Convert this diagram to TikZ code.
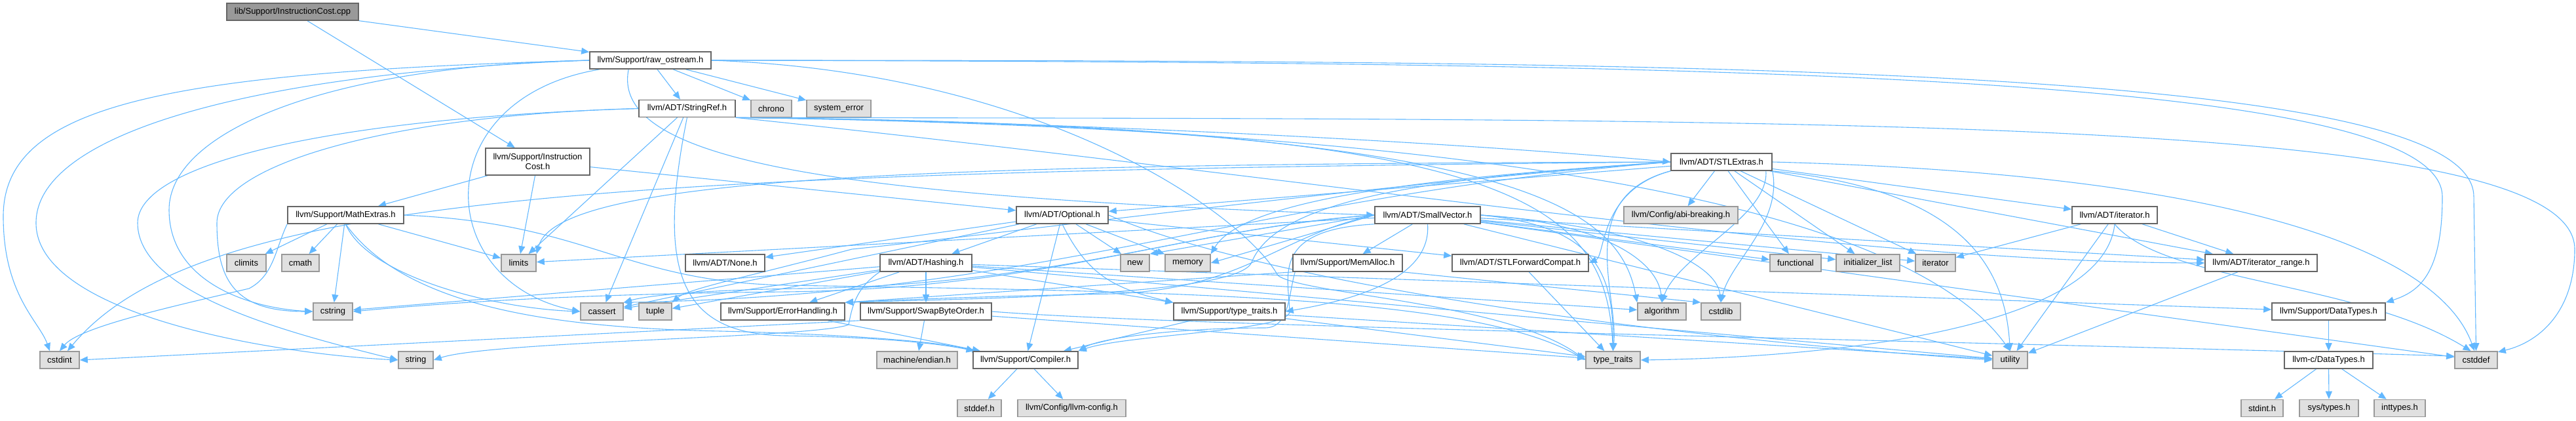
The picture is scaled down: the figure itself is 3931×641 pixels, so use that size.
\documentclass[tikz,border=0pt]{standalone}
\usepackage{fontspec}
\setmainfont{Liberation Sans}
\usetikzlibrary{arrows.meta,backgrounds}
\definecolor{edgeblue}{HTML}{63B8FF}
\definecolor{sysfill}{HTML}{E0E0E0}
\definecolor{sysline}{HTML}{999999}
\definecolor{hdrline}{HTML}{666666}
\definecolor{rootfill}{HTML}{999999}
\tikzset{
  hdr/.style={draw=hdrline, fill=white, line width=1.6pt, inner sep=0pt,
    minimum height=26pt, font=\fontsize{13}{15}\selectfont},
  sys/.style={hdr, draw=sysline, fill=sysfill},
  root/.style={hdr, fill=rootfill},
  inc/.style={draw=edgeblue, line width=1.1pt, -{Triangle[length=12pt,width=10pt]}}
}
\begin{document}
\begin{tikzpicture}[x=1pt, y=-1pt]
\useasboundingbox (0,0) rectangle (3931,641);
% project headers
\node[root, minimum width=201pt] (cpp) at (446.5,18) {lib/Support/InstructionCost.cpp};
\node[hdr, minimum width=185pt] (raw) at (992.5,92) {llvm/Support/raw\_ostream.h};
\node[hdr, minimum width=159pt, minimum height=41pt, align=center] (ic) at (820.5,246.5) {llvm/Support/Instruction\\Cost.h};
\node[hdr, minimum width=177pt] (math) at (527.5,328) {llvm/Support/MathExtras.h};
\node[hdr, minimum width=147pt] (sref) at (1048.5,165.5) {llvm/ADT/StringRef.h};
\node[hdr, minimum width=140pt] (opt) at (1621,328) {llvm/ADT/Optional.h};
\node[hdr, minimum width=121pt] (none) at (1106.5,401) {llvm/ADT/None.h};
\node[hdr, minimum width=140pt] (hash) at (1413,401) {llvm/ADT/Hashing.h};
\node[hdr, minimum width=189pt] (errh) at (1194.5,475) {llvm/Support/ErrorHandling.h};
\node[hdr, minimum width=200pt] (swap) at (1413,475) {llvm/Support/SwapByteOrder.h};
\node[hdr, minimum width=170pt] (ltt) at (1876,475) {llvm/Support/type\_traits.h};
\node[hdr, minimum width=160pt] (comp) at (1565,549) {llvm/Support/Compiler.h};
\node[hdr, minimum width=154pt] (stl) at (2627,247) {llvm/ADT/STLExtras.h};
\node[hdr, minimum width=161pt] (svec) at (2178.5,328) {llvm/ADT/SmallVector.h};
\node[hdr, minimum width=167pt] (memalloc) at (2056.5,401) {llvm/Support/MemAlloc.h};
\node[hdr, minimum width=208pt] (fwd) at (2320,401) {llvm/ADT/STLForwardCompat.h};
\node[hdr, minimum width=130pt] (iter) at (3227,328) {llvm/ADT/iterator.h};
\node[hdr, minimum width=171pt] (irange) at (3450.5,401) {llvm/ADT/iterator\_range.h};
\node[hdr, minimum width=173pt] (dtypes) at (3553.5,475) {llvm/Support/DataTypes.h};
\node[hdr, minimum width=135pt] (cdtypes) at (3553.5,549) {llvm-c/DataTypes.h};
% system headers
\node[sys, minimum width=62pt] (chrono) at (1177,165.5) {chrono};
\node[sys, minimum width=98pt] (syserr) at (1280,165.5) {system\_error};
\node[sys, minimum width=60pt] (climits) at (376,401) {climits};
\node[sys, minimum width=57pt] (cmath) at (458.5,401) {cmath};
\node[sys, minimum width=53pt] (limits) at (791.5,401) {limits};
\node[sys, minimum width=60pt] (cstring) at (508,475) {cstring};
\node[sys, minimum width=65pt] (cassert) at (918.5,475) {cassert};
\node[sys, minimum width=50pt] (tuple) at (1000,475) {tuple};
\node[sys, minimum width=60pt] (cstdint) at (91,549) {cstdint};
\node[sys, minimum width=53pt] (string) at (634.5,549) {string};
\node[sys, minimum width=44pt] (new) at (1732,401) {new};
\node[sys, minimum width=69pt] (memory) at (1812.5,401) {memory};
\node[sys, minimum width=123pt] (endian) at (1399.5,549) {machine/endian.h};
\node[sys, minimum width=67pt] (stddef) at (1494.5,622.5) {stddef.h};
\node[sys, minimum width=165pt] (config) at (1635.5,622.5) {llvm/Config/llvm-config.h};
\node[sys, minimum width=174pt] (abi) at (2565,328) {llvm/Config/abi-breaking.h};
\node[sys, minimum width=78pt] (functional) at (2740,401) {functional};
\node[sys, minimum width=97pt] (initlist) at (2850.5,401) {initializer\_list};
\node[sys, minimum width=74pt] (algorithm) at (2536,475) {algorithm};
\node[sys, minimum width=60pt] (cstdlib) at (2626,475) {cstdlib};
\node[sys, minimum width=83pt] (stt) at (2461.5,549) {type\_traits};
\node[sys, minimum width=61pt] (stditer) at (2953.5,401) {iterator};
\node[sys, minimum width=53pt] (utility) at (3067.5,549) {utility};
\node[sys, minimum width=65pt] (cstddef) at (3778.5,549) {cstddef};
\node[sys, minimum width=64pt] (stdint) at (3452,622.5) {stdint.h};
\node[sys, minimum width=90pt] (systypes) at (3554,622.5) {sys/types.h};
\node[sys, minimum width=78pt] (inttypes) at (3662,622.5) {inttypes.h};
\begin{scope}[on background layer]
% short includes
\foreach \a/\b in {cpp/raw, cpp/ic, raw/sref, raw/chrono, raw/syserr,
    ic/math, ic/limits, ic/opt, math/climits, math/cmath, math/cstring, math/limits,
    sref/limits, sref/cassert,
    stl/opt, stl/iter, stl/irange, stl/abi, stl/functional, stl/initlist, stl/stditer,
    opt/hash, opt/none, opt/fwd, opt/comp, opt/cassert, opt/memory, opt/new,
    hash/dtypes, hash/errh, hash/swap, hash/ltt, hash/algorithm, hash/cassert,
    hash/cstring, hash/tuple, hash/utility,
    svec/irange, svec/memalloc, svec/limits, svec/cstddef, svec/functional,
    svec/initlist, svec/stditer, svec/utility,
    errh/comp, swap/stt, swap/endian, ltt/comp, ltt/stt, ltt/utility, fwd/stt,
    iter/irange, iter/stditer, iter/utility, irange/utility,
    dtypes/cdtypes, cdtypes/stdint, cdtypes/systypes, cdtypes/inttypes,
    comp/stddef, comp/config}
  \draw[inc] (\a) -- (\b);
% raw_ostream.h
\draw[inc] ([xshift=60pt]raw.south west) .. controls (930,250) and (1300,300) .. (svec.west);
\draw[inc] (raw.east) .. controls (2600,95) and (3727,110) .. (3727,300)
  .. controls (3727,420) and (3690,445) .. (dtypes.north east);
\draw[inc] (raw.east) .. controls (2600,92) and (3775,100) .. (3775,300) -- (cstddef.north);
\draw[inc] (raw.west) .. controls (250,110) and (5,160) .. (5,330)
  .. controls (5,450) and (60,490) .. ([xshift=-15pt]cstdint.north);
\draw[inc] (raw.west) .. controls (400,110) and (55,200) .. (55,340)
  .. controls (55,480) and (420,540) .. (string.west);
\draw[inc] (raw.west) .. controls (500,100) and (258,200) .. (258,320)
  .. controls (258,430) and (380,470) .. (cstring.west);
\draw[inc] ([xshift=16pt]raw.south west) .. controls (650,150) and (660,430) .. (cassert.west);
\draw[inc] (raw.east) .. controls (1600,110) and (1900,330) .. (1950,420)
  .. controls (1990,450) and (2300,460) .. (stt.west);
% StringRef.h
\draw[inc] (sref.south east) .. controls (1600,185) and (2200,215) .. (stl.west);
\draw[inc] (sref.south east) .. controls (2000,270) and (2800,400) .. (irange.west);
\draw[inc] (sref.south east) .. controls (2300,190) and (2450,300) .. (stt.north);
\draw[inc] (sref.south east) .. controls (2200,195) and (2900,300) .. (utility.north);
\draw[inc] (sref.south east) .. controls (2300,192) and (2470,310) .. (algorithm.north west);
\draw[inc] (sref.south east) .. controls (2800,182) and (3929,175) .. (3929,380)
  .. controls (3929,470) and (3880,520) .. (cstddef.20);
\draw[inc] (sref.west) .. controls (600,175) and (331,250) .. (331,340)
  .. controls (331,430) and (360,475) .. (cstring.west);
\draw[inc] (sref.west) .. controls (500,180) and (210,250) .. (210,340)
  .. controls (210,450) and (450,510) .. (string.west);
\draw[inc] (sref.south) .. controls (1000,420) and (1040,510) .. (1200,512)
  .. controls (1350,514) and (1440,525) .. (comp.170);
% MathExtras.h
\draw[inc] (math.south west) .. controls (420,380) and (418,420) .. (380,440)
  .. controls (250,470) and (120,500) .. (cstdint.north);
\draw[inc] (math.south) .. controls (560,420) and (750,470) .. (cassert.west);
\draw[inc] (math.south) .. controls (620,470) and (850,500) .. (1100,505)
  .. controls (1300,510) and (1440,522) .. (comp.170);
\draw[inc] (math.east) .. controls (900,340) and (950,430) .. (1200,435)
  .. controls (1800,445) and (2250,450) .. (stt.west);
% STLExtras.h
\draw[inc] (stl.south west) .. controls (2440,290) and (2450,390) .. (fwd.east);
\draw[inc] ([xshift=-10pt]stl.south east) .. controls (2700,330) and (2560,390) .. (algorithm.north);
\draw[inc] (stl.south east) .. controls (2720,340) and (2640,400) .. (cstdlib.north);
\draw[inc] (stl.east) .. controls (3400,265) and (3720,380) .. (cstddef.100);
\draw[inc] (stl.south east) .. controls (3010,290) and (3060,420) .. (utility.north);
\draw[inc] (stl.south west) .. controls (2400,300) and (2470,450) .. (stt.north);
\draw[inc] (stl.west) .. controls (2200,270) and (1950,300) .. (1910,400)
  .. controls (1890,450) and (1500,455) .. (errh.north east);
\draw[inc] (stl.west) .. controls (1900,300) and (1600,450) .. (cassert.north east);
\draw[inc] (stl.west) .. controls (900,262) and (300,300) .. ([xshift=12pt]cstdint.north);
\draw[inc] (stl.west) .. controls (1400,250) and (850,270) .. (limits.north east);
\draw[inc] (stl.west) .. controls (2200,270) and (1900,300) .. (memory.north east);
\draw[inc] (stl.west) .. controls (2100,280) and (1500,360) .. (1300,380)
  .. controls (1150,420) and (1050,440) .. (tuple.north east);
% Optional.h and Hashing.h
\draw[inc] (opt.south) .. controls (1660,420) and (1700,440) .. (ltt.north west);
\draw[inc] (opt.east) .. controls (1950,440) and (2600,520) .. (utility.west);
\draw[inc] (hash.south west) .. controls (1305,440) and (1300,470) .. (1295,495)
  .. controls (1250,515) and (750,520) .. (string.east);
% SmallVector.h
\draw[inc] (svec.south west) .. controls (1940,350) and (1966,420) .. (1968,475)
  .. controls (1969,505) and (1720,510) .. (comp.north east);
\draw[inc] (svec.west) .. controls (1950,360) and (1900,440) .. (1700,448)
  .. controls (1500,452) and (1400,456) .. (errh.north east);
\draw[inc] (svec.south) .. controls (2185,430) and (2050,460) .. (ltt.east);
\draw[inc] (svec.east) .. controls (2450,340) and (2530,400) .. (algorithm.north);
\draw[inc] (svec.east) .. controls (2500,345) and (2620,400) .. (cstdlib.north);
\draw[inc] (svec.east) .. controls (2440,345) and (2462,420) .. (stt.north);
\draw[inc] (svec.west) .. controls (1800,350) and (1600,440) .. (1200,445)
  .. controls (900,448) and (700,460) .. (cstring.east);
\draw[inc] (svec.west) .. controls (1830,345) and (1620,435) .. (1220,440)
  .. controls (1080,442) and (990,450) .. (cassert.north east);
\draw[inc] (svec.west) -- (memory.east);
\draw[inc] (svec.west) -- (new.north east);
% MemAlloc.h and SwapByteOrder.h
\draw[inc] ([xshift=4pt]memalloc.south west) .. controls (1966,450) and (1968,500) .. (1930,500)
  .. controls (1800,500) and (1680,515) .. (comp.north east);
\draw[inc] (memalloc.south west) -- (errh.north east);
\draw[inc] (memalloc.south east) -- (cstdlib.north west);
\draw[inc] (swap.east) .. controls (1800,498) and (3000,520) .. (cstddef.170);
\draw[inc] (swap.south west) -- (cstdint.east);
% iterator.h
\draw[inc] (iter.south) .. controls (3210,500) and (2800,545) .. (stt.east);
\draw[inc] (iter.south) .. controls (3300,430) and (3600,430) .. (cstddef.120);
\end{scope}
\end{tikzpicture}
\end{document}
